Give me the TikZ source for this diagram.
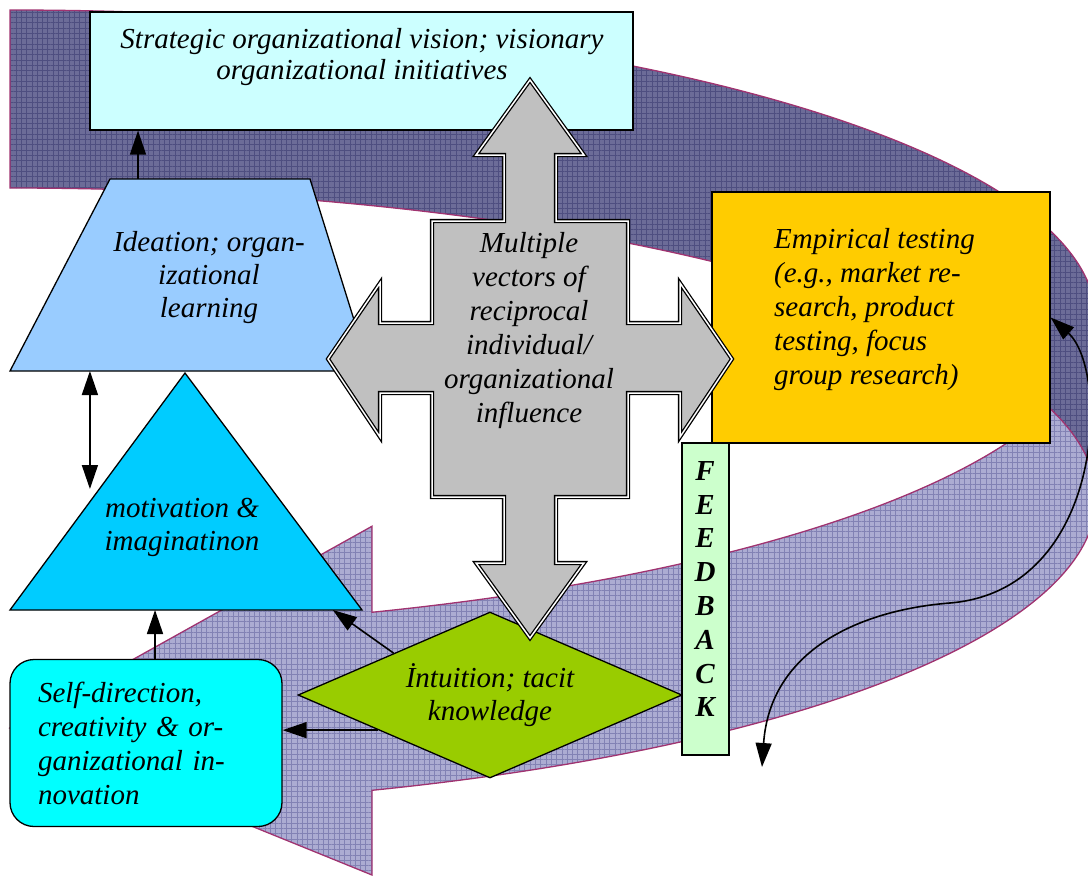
\documentclass[tikz,border=0pt]{standalone}
\usepackage{fontspec}
\setmainfont{Liberation Serif}
\usepackage{tikz}
\usetikzlibrary{calc,positioning,shapes.geometric,arrows.meta,patterns.meta}
\definecolor{bandback}{HTML}{6C6C98}
\definecolor{gridback}{HTML}{4E4E80}
\definecolor{bandfront}{HTML}{ACACD2}
\definecolor{gridfront}{HTML}{8282B4}
\definecolor{bandline}{HTML}{A03370}
\definecolor{visionfill}{HTML}{CCFFFF}
\definecolor{ideafill}{HTML}{99CCFF}
\definecolor{motifill}{HTML}{00CCFF}
\definecolor{selffill}{HTML}{00FFFF}
\definecolor{intufill}{HTML}{99CC00}
\definecolor{testfill}{HTML}{FFCC00}
\definecolor{feedfill}{HTML}{CCFFCC}
\definecolor{arrowgray}{HTML}{C0C0C0}

\begin{document}
\begin{tikzpicture}[x=1pt,y=-1pt,
	every node/.style={font=\fontsize{29pt}{33pt}\selectfont\itshape},
	box/.style={draw=black,line width=1.3pt,inner sep=0pt},
	txt/.style={inner sep=0pt,align=center},
	conn/.style={line width=1.6pt,-{Triangle[length=24pt,width=16pt]}},
	dconn/.style={line width=1.6pt,{Triangle[length=24pt,width=16pt]}-{Triangle[length=24pt,width=16pt]}},
	bandgrid/.style={pattern={Hatch[distance=5.3pt,angle=0,line width=.5pt]}},
	quadarrow/.style={fill=arrowgray,draw=black,double=white,double distance=1.5pt,line width=1.3pt,line join=miter}]
	\useasboundingbox (0,0) rectangle (1088,876);
	\begin{scope}
		\clip (0,0) rectangle (1088,876);
		\path[fill=bandfront,postaction={pattern color=gridfront,bandgrid},postaction={draw=bandline,line width=1.3pt}]
			(1096,320) arc[start angle=0,end angle=70.53,x radius=1086,y radius=310] -- ++(0,-86) -- (10,728) -- (372,875) -- (372,790.3)
			arc[start angle=70.53,end angle=0,x radius=1086,y radius=310] -- cycle;
		\path[fill=bandback,postaction={pattern color=gridback,bandgrid},postaction={draw=bandline,line width=1.3pt}]
			(10,10) arc[start angle=-90,end angle=0,x radius=1086,y radius=310] -- (1096,498)
			arc[start angle=0,end angle=-90,x radius=1086,y radius=310] -- cycle;
	\end{scope}
	\node[box,fill=visionfill,minimum width=543pt,minimum height=118pt] (vision) at (361.5,71) {};
	\node[txt,font=\fontsize{29pt}{31pt}\selectfont\itshape] (visiontxt) at (362,57) {Strategic organizational vision; visionary\\organizational initiatives};
	\draw[box,fill=ideafill] (110,179) coordinate (idTL) -- (310,179) coordinate (idTR) -- (370,371) coordinate (idBR) -- (10,371) coordinate (idBL) -- cycle;
	\node[txt] (ideation) at (209,278) {Ideation; organ-\\izational\\learning};
	\draw[box,fill=motifill] (185,373) coordinate (moTop) -- (362,610) coordinate (moBR) -- (10,610) coordinate (moBL) -- cycle;
	\node[txt] (motivation) at (182,527) {motivation \&\\imaginatinon};
	\node[box,rounded corners=24pt,fill=selffill,minimum width=272pt,minimum height=167pt,text width=216pt,inner xsep=28pt,align=left,font=\fontsize{29pt}{34pt}\selectfont\itshape] (selfdir) at (146,743) {Self-direction,\\creativity \& or-\\ganizational in-\\novation};
	\node[box,diamond,aspect=2.3,fill=intufill,minimum width=384pt,minimum height=166pt,align=center] (intuition) at (490,695) {İntuition; tacit\\knowledge};
	\node[box,fill=testfill,minimum width=338pt,minimum height=251pt] (testing) at (881,317.5) {};
	\node[txt,align=left,anchor=west,font=\fontsize{29pt}{34pt}\selectfont\itshape] (testingtxt) at (774,310) {Empirical testing\\(e.g., market re-\\search, product\\testing, focus\\group research)};
	\node[box,fill=feedfill,minimum width=47pt,minimum height=312pt] (feedback) at (705.5,599) {};
	\node[txt,font=\fontsize{29pt}{33.8pt}\selectfont\bfseries\itshape] (feedtxt) at (705,589) {F\\E\\E\\D\\B\\A\\C\\K};
	\draw[quadarrow] (530,80) -- (584,155) -- (556,155) -- (556,221) -- (628,221) -- (628,323) -- (680,323) -- (680,283) -- (732,359) -- (680,437) -- (680,393) -- (628,393) -- (628,497) -- (556,497) -- (556,563) -- (584,563) -- (530,638) -- (476,563) -- (504,563) -- (504,497) -- (432,497) -- (432,393) -- (380,393) -- (380,437) -- (328,359) -- (380,283) -- (380,323) -- (432,323) -- (432,221) -- (504,221) -- (504,155) -- (476,155) -- cycle;
	\node[txt,font=\fontsize{29pt}{34pt}\selectfont\itshape] (vectors) at (529,331) {Multiple\\vectors of\\reciprocal\\individual/\\organizational\\influence};
	\draw[conn] ($(idTL)!.14!(idTR)$) coordinate (idup) -- (idup |- vision.south);
	\draw[dconn] ($(idBL)!.222!(idBR)$) -- ++(0,118);
	\draw[conn] ($(selfdir.north west)!.533!(selfdir.north east)$) coordinate (sdup) -- (sdup |- moBL);
	\draw[conn] ($(intuition.west)!.5!(intuition.north)$) -- ($(moBL)!.917!(moBR)$);
	\draw[conn] ($(intuition.west)!.42!(intuition.south)$) coordinate (intuleft) -- (intuleft -| selfdir.east);
	\coordinate (loopend) at (762,767);
	\draw[dconn] (testing.east) .. controls (1110,370) and (1105,590) .. (950,603) .. controls (860,610) and (770,650) .. (loopend);
\end{tikzpicture}
\end{document}
